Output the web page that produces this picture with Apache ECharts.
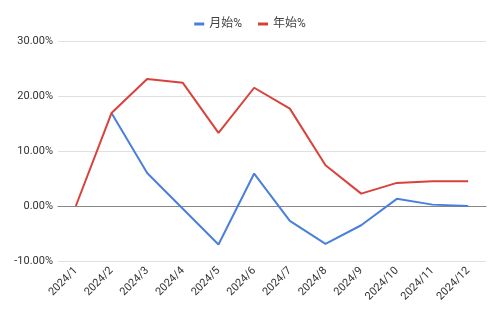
<!DOCTYPE html>
<html><head><meta charset="utf-8">
<script src="https://cdn.jsdelivr.net/npm/echarts@6/dist/echarts.min.js"></script>
<style>html,body{margin:0;padding:0;background:#fff}#c{width:500px;height:310px}</style>
</head><body><div id="c"></div>
<script>
const categories = ['2024/1','2024/2','2024/3','2024/4','2024/5','2024/6','2024/7','2024/8','2024/9','2024/10','2024/11','2024/12'];
const monthStart = [null, 16.9, 6.0, -0.5, -7.0, 5.9, -2.7, -6.9, -3.5, 1.3, 0.25, 0.0];
const yearStart = [0.0, 16.9, 23.1, 22.4, 13.3, 21.5, 17.7, 7.4, 2.25, 4.2, 4.5, 4.5];
const seriesNames = ['月始%', '年始%'];
const chart = echarts.init(document.getElementById('c'));
const font = 'Roboto, Arial, "Noto Sans CJK SC", sans-serif';
chart.setOption({
  animation: false,
  textStyle: {fontFamily: font},
  legend: {
    top: 13, left: 'center', icon: 'rect', itemWidth: 10, itemHeight: 3, itemGap: 16,
    textStyle: {fontSize: 12, color: '#444', fontFamily: font},
    data: seriesNames
  },
  grid: {left: 58, right: 14, top: 41, bottom: 49},
  xAxis: {
    type: 'category', data: categories, boundaryGap: true,
    axisLine: {onZero: true, lineStyle: {color: '#888', width: 1}},
    axisTick: {show: false},
    axisLabel: {rotate: 45, fontSize: 11, color: '#333', margin: 8, interval: 0, fontFamily: font}
  },
  yAxis: {
    type: 'value', min: -10, max: 30, interval: 10,
    axisLine: {show: false}, axisTick: {show: false},
    splitLine: {lineStyle: {color: '#e0e0e0', width: 1}},
    axisLabel: {formatter: v => v.toFixed(2) + '%', fontSize: 11, color: '#333', margin: 5, fontFamily: font}
  },
  series: [
    {name: seriesNames[0], type: 'line', data: monthStart, symbol: 'none', connectNulls: false,
     lineStyle: {color: '#4a7fdc', width: 2}, itemStyle: {color: '#4a7fdc'}},
    {name: seriesNames[1], type: 'line', data: yearStart, symbol: 'none',
     lineStyle: {color: '#d9423a', width: 2}, itemStyle: {color: '#d9423a'}}
  ]
});
</script></body></html>
